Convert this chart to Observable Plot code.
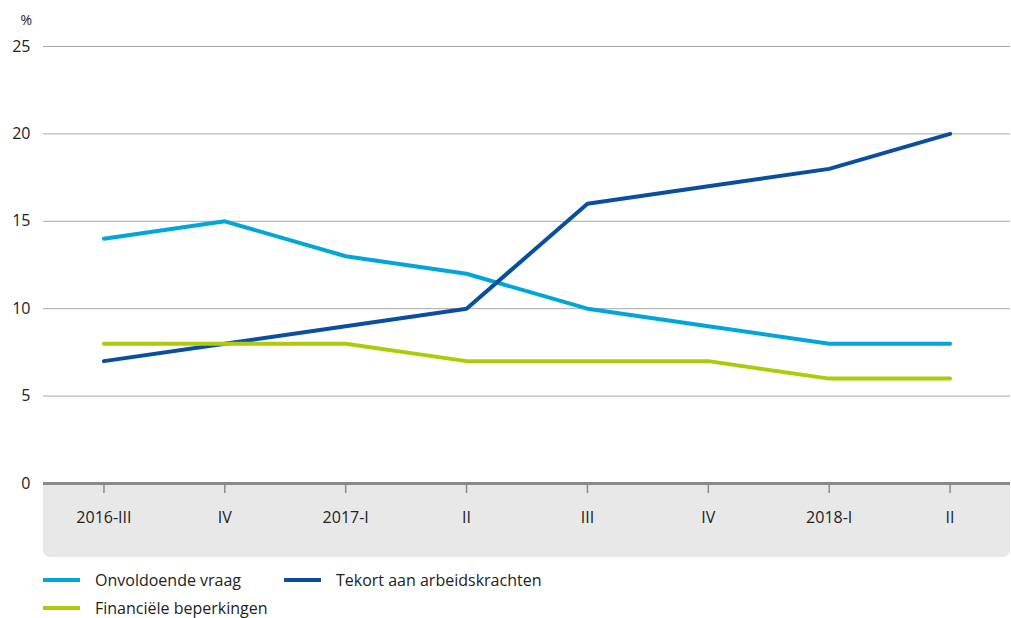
<!DOCTYPE html>
<html>
<head>
<meta charset="utf-8">
<script src="https://cdn.jsdelivr.net/npm/d3@7"></script>
<script src="https://cdn.jsdelivr.net/npm/@observablehq/plot@0.6"></script>
<style>
  body { margin: 0; background: #fff; font-family: 'Open Sans', sans-serif; }
  #wrap { position: relative; width: 1011px; height: 618px; }
  #band { position: absolute; left: 43px; top: 483px; width: 967px; height: 74px; background: #e8e8e8; border-radius: 0 0 7px 7px; }
  #chart { position: absolute; left: 0; top: 0; }
  #chart svg text { font-family: 'Open Sans', sans-serif; }
  #legend { position: absolute; left: 43px; top: 569px; font-size: 16px; color: #222; }
  .item { position: absolute; display: flex; align-items: center; white-space: nowrap; }
  .sw { width: 37px; height: 4px; margin-right: 15px; }
</style>
</head>
<body>
<div id="wrap">
  <div id="band"></div>
  <div id="chart"></div>
  <div id="legend"></div>
</div>
<script>
const periods = ["2016-III", "IV", "2017-I", "II", "III", "IV ", "2018-I", "II "];
const periodLabels = ["2016-III", "IV", "2017-I", "II", "III", "IV", "2018-I", "II"];
const seriesNames = ["Onvoldoende vraag", "Tekort aan arbeidskrachten", "Financiële beperkingen"];
const seriesColors = ["#00a6d9", "#0a4f9f", "#afca0b"];
const onvoldoendeVraag = [14, 15, 13, 12, 10, 9, 8, 8];
const tekortArbeidskrachten = [7, 8, 9, 10, 16, 17, 18, 20];
const financieleBeperkingen = [8, 8, 8, 7, 7, 7, 6, 6];
const yTicks = [0, 5, 10, 15, 20, 25];

const seriesValues = [onvoldoendeVraag, tekortArbeidskrachten, financieleBeperkingen];
const data = [];
seriesNames.forEach((s, i) => periods.forEach((p, j) => data.push({period: p, series: s, value: seriesValues[i][j]})));

const chart = Plot.plot({
  width: 1011,
  height: 560,
  marginTop: 46,
  marginBottom: 77,
  marginLeft: 43,
  marginRight: 1,
  style: { fontFamily: "'Open Sans', sans-serif", fontSize: "16px", color: "#222", background: "transparent", overflow: "visible" },
  x: { type: "point", domain: periods, padding: 0.5, round: false },
  y: { domain: [0, 25] },
  color: { domain: seriesNames, range: seriesColors },
  marks: [
    Plot.gridY(yTicks.filter(d => d > 0), { stroke: "#a8a8a8", strokeOpacity: 1, strokeWidth: 1 }),
    Plot.axisY(yTicks, { tickSize: 0, tickPadding: 13, label: null, fontSize: 16 }),
    Plot.text(["%"], { frameAnchor: "top-left", dx: -23, dy: -31, fontSize: 14 }),
    Plot.line(data, { x: "period", y: "value", z: "series", stroke: "series", strokeWidth: 4, strokeLinejoin: "miter" }),
    Plot.ruleY([0], { stroke: "#8a8a8a", strokeWidth: 3 }),
    Plot.axisX({ tickSize: 10, tickPadding: 18, stroke: "#8a8a8a", strokeWidth: 1.5, label: null, fontSize: 16, tickFormat: (d, i) => periodLabels[i] })
  ]
});
document.getElementById("chart").appendChild(chart);

const legend = document.getElementById("legend");
const positions = [[0, 0], [241, 0], [0, 28]];
seriesNames.forEach((s, i) => {
  const el = document.createElement("div");
  el.className = "item";
  el.style.left = positions[i][0] + "px";
  el.style.top = positions[i][1] + "px";
  el.innerHTML = `<span class="sw" style="background:${seriesColors[i]}"></span><span>${s}</span>`;
  legend.appendChild(el);
});
</script>
</body>
</html>
